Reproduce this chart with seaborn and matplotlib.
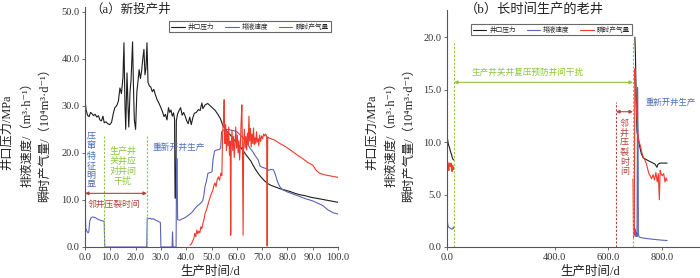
import matplotlib
matplotlib.use("Agg")
import matplotlib.pyplot as plt
from matplotlib.lines import Line2D
from matplotlib.ticker import FormatStrFormatter
import seaborn as sns
import pandas as pd

# ---------- (a) new well ----------
a_p_day = [0, 0.4, 1, 1.6, 2.2, 2.8, 3.4, 4, 4.7, 5.3, 5.9, 6.5, 7.1, 7.6, 8.3, 9.0, 9.8, 10.5,
           11.2, 11.8, 12.5, 13.2, 13.8, 14.4, 15.0, 15.4, 15.8, 16.1, 16.6, 17.0, 17.3, 17.8,
           18.2, 18.8, 19.2, 19.5, 20.0, 20.5, 21.0, 21.4, 21.9, 22.4, 22.8, 23.3, 23.7, 24.1,
           24.5, 24.9, 25.5, 26.0, 26.6, 27.2, 27.8, 28.5, 29.2, 30.0, 30.6, 31.2, 31.8, 32.4,
           33.0, 33.5, 34.0, 34.5, 35.0, 35.4, 35.6, 35.9, 36.1, 36.6, 37.2, 37.8, 38.4, 39.0,
           39.6, 40.2, 40.8, 41.4, 42.0, 42.6, 43.2, 44.0, 44.8, 45.5, 46.2, 46.6, 47.5, 48.5,
           49.5, 50.5, 51.5, 52.5, 53.5, 54.5, 55.5, 56.5, 57.5, 58.5, 59.5, 60.5, 61.5, 62.5,
           63.5, 64.5, 65.5, 66.5, 67.5, 68.5, 69.5, 70.5, 71.5, 72.5, 73.5, 75, 77, 79, 81, 83,
           85, 87, 89, 91, 93, 95, 97, 100]
a_p_val = [31.5, 29.2, 28.0, 27.7, 28.6, 28.3, 27.9, 28.2, 27.6, 27.9, 27.0, 26.8, 27.8, 26.4,
           26.6, 26.2, 26.0, 26.5, 28.4, 29.6, 30.0, 31.0, 33.8, 32.6, 36.0, 43.4, 30.0, 25.0,
           37.0, 30.0, 25.5, 33.0, 35.5, 43.6, 33.0, 27.0, 25.0, 33.0, 35.5, 37.7, 35.8, 37.5,
           39.8, 42.0, 36.6, 38.0, 43.4, 35.0, 34.2, 34.0, 33.0, 33.5, 32.4, 31.3, 30.6, 29.6,
           28.8, 27.7, 28.2, 27.0, 29.6, 28.6, 29.1, 27.8, 28.5, 27.2, 10.4, 10.4, 26.8, 28.3,
           29.0, 29.6, 28.0, 28.6, 27.8, 26.8, 26.2, 27.6, 26.0, 27.4, 28.4, 28.6, 29.2, 29.0,
           30.6, 29.4, 30.2, 30.5, 30.0, 29.5, 29.0, 28.2, 27.3, 25.8, 25.0, 24.3, 23.8, 23.0,
           22.4, 21.8, 21.2, 20.5, 19.7, 19.0, 18.3, 17.3, 16.4, 15.6, 14.9, 14.3, 13.8, 13.4,
           13.1, 12.8, 12.4, 12.1, 11.8, 11.4, 11.1, 10.9, 10.6, 10.4, 10.2, 10.0, 9.8, 9.5]

a_q_day = [0, 0.3, 0.7, 1.2, 1.5, 1.9, 2.4, 3.0, 3.6, 4.2, 4.8, 5.4, 6.0, 6.6, 7.2, 7.6, 7.8,
           24.4, 24.6, 25.2, 25.8, 26.4, 27.0, 27.6, 28.2, 28.8, 29.4, 29.8, 30.0, 34.4, 34.6,
           34.8, 36.0, 36.2, 36.4, 36.6, 37.5, 38.5, 39.5, 40.5, 41.5, 42.5, 43.5, 44.5, 45.5,
           46.5, 47.0, 47.4, 48.0, 48.6, 49.5, 50.2, 50.6, 51.2, 52.0, 53.0, 53.6, 54.0, 55.0,
           56.5, 58.0, 59.0, 60.0, 61.0, 62.5, 64.0, 65.0, 66.4, 67.5, 68.4, 69.2, 70.2, 71.5,
           72.5, 73.5, 74.5, 75.3, 76.0, 77.0, 78.0, 80.0, 82.5, 85.0, 87.5, 90.0, 92.0, 94.0,
           96.0, 98.0, 100]
a_q_val = [10.0, 4.0, 3.4, 3.0, 3.2, 5.6, 6.2, 6.4, 6.3, 6.2, 6.0, 5.8, 5.7, 5.6, 5.5, 5.4, 0.0,
           0.0, 6.2, 6.0, 6.1, 5.9, 6.0, 5.8, 5.6, 5.5, 5.3, 5.2, 0.0, 0.0, 3.2,
           0.0, 0.0, 18.8, 18.8, 5.8, 5.7, 6.0, 6.2, 6.6, 7.0, 7.5, 8.2, 8.8, 9.2,
           9.8, 11.0, 12.8, 14.0, 15.7, 15.8, 16.0, 18.5, 20.4, 20.6, 20.7, 21.0, 24.5, 24.9,
           25.0, 24.8, 24.7, 24.5, 24.0, 23.2, 22.2, 21.2, 20.2, 19.2, 18.6, 17.2, 16.9, 16.7,
           16.3, 16.5, 16.4, 15.3, 14.0, 12.8, 12.2, 11.7, 11.2, 10.7, 10.2, 9.8, 9.3, 8.8,
           7.9, 7.3, 7.0]

a_g_day = [41.5, 42.0, 42.5, 43.0, 43.4, 43.8, 44.2, 44.6, 45.0, 45.4, 45.8, 46.2, 46.6, 47.0,
           47.5, 48.0, 48.5, 49.0, 49.5, 50.0, 50.5, 51.0, 51.4, 51.8, 52.2, 52.7, 53.2, 53.7,
           54.1, 54.4, 54.8, 55.0, 55.3, 55.6, 55.9, 56.2, 56.5, 56.8, 57.1, 57.4, 57.6, 57.8,
           58.1, 58.4, 58.7, 59.0, 59.3, 59.6, 59.9, 60.2, 60.5, 60.8, 61.1, 61.4, 61.7, 62.0,
           62.2, 62.5, 62.7, 63.0, 63.3, 63.6, 63.9, 64.2, 64.5, 64.8, 65.1, 65.4, 65.7, 66.0,
           66.3, 66.6, 66.9, 67.2, 67.5, 67.8, 68.1, 68.4, 68.7, 69.0, 69.4, 69.8, 70.2, 70.6,
           71.0, 71.4, 71.8, 72.0, 72.2, 72.6, 73.5, 75.0, 77.0, 79.0, 82.0, 84.0, 86.0, 88.0,
           90.0, 91.5, 93.0, 95.0, 97.0, 100]
a_g_val = [0.4, 0.6, 1.2, 1.8, 2.9, 2.2, 3.6, 2.8, 3.4, 3.0, 4.3, 3.9, 5.0, 5.8,
           7.2, 7.9, 8.8, 9.8, 10.6, 11.4, 12.0, 13.2, 13.6, 12.8, 14.2, 14.9, 14.2, 15.7,
           15.2, 24.0, 27.5, 31.3, 22.0, 26.0, 20.5, 24.5, 21.5, 25.5, 19.5, 22.5, 2.5, 21.0,
           24.8, 20.5, 23.5, 19.0, 22.0, 25.5, 21.0, 23.8, 20.0, 22.6, 18.5, 21.5, 26.5, 30.2,
           22.0, 2.5, 21.5, 25.0, 21.0, 23.5, 20.6, 24.2, 21.8, 27.8, 22.5, 25.2, 21.3, 24.0,
           22.0, 25.3, 21.8, 23.2, 22.0, 24.5, 22.3, 23.0, 21.5, 23.8, 22.4, 23.6, 23.0, 24.0,
           23.6, 24.0, 23.5, 0.2, 23.4, 23.2, 23.0, 22.7, 22.0, 21.4, 20.3, 19.5, 18.8, 18.0,
           17.4, 16.2, 15.6, 15.3, 15.1, 14.8]

# ---------- (b) old well, two production periods ----------
b_p_day1 = [0, 2, 5, 9, 13, 17, 21, 25]
b_p_val1 = [10.5, 10.3, 9.8, 9.5, 9.1, 8.8, 8.4, 8.3]
b_p_day2 = [698, 700, 702, 704, 706, 710, 716, 722, 729, 736, 743, 750, 758, 766, 773, 780,
            784, 792, 818]
b_p_val2 = [20.0, 18.5, 15.5, 12.5, 11.0, 10.4, 9.6, 8.9, 8.5, 8.4, 8.3, 8.2, 8.1, 8.0, 7.9,
            7.6, 7.9, 8.0, 8.0]

b_q_day1 = [0, 1, 2, 4, 6, 9, 12, 15, 18, 21, 24, 25]
b_q_val1 = [3.6, 2.8, 2.3, 2.0, 1.9, 1.85, 1.8, 1.75, 1.7, 1.75, 1.9, 1.8]
b_q_day2 = [693, 696, 698, 700, 702, 704, 706, 708, 710, 711, 714, 720, 730, 745, 760, 780,
            800, 818]
b_q_val2 = [0.9, 1.9, 1.2, 1.7, 1.0, 1.4, 1.0, 15.2, 10.5, 1.2, 0.95, 0.9, 0.85, 0.8, 0.75,
            0.7, 0.65, 0.62]

b_g_day1 = [0, 0.5, 1.5, 3, 5, 7, 9, 11, 13, 15, 17, 19, 21, 23, 25]
b_g_val1 = [4.4, 6.5, 8.0, 8.1, 7.6, 7.3, 8.0, 7.9, 7.7, 8.0, 7.5, 7.2, 7.8, 7.4, 7.6]
b_g_day2 = [691, 693, 696, 698, 701, 705, 710, 714, 719, 724, 729, 735, 740, 745, 750, 755,
            760, 766, 771, 776, 781, 785, 789, 792, 795, 800, 805, 810, 814, 818]
b_g_val2 = [6.5, 1.0, 1.2, 17.0, 15.0, 12.5, 10.5, 10.0, 9.6, 9.0, 8.6, 8.3, 8.0, 7.5, 7.0,
            6.8, 6.5, 6.9, 6.4, 7.1, 6.2, 7.0, 4.5, 7.3, 7.0, 6.8, 7.0, 6.2, 6.6, 6.3]

names = ["井口压力", "排液速度", "瞬时产气量"]
colors = {"井口压力": "#1e1e1e", "排液速度": "#5c64b4", "瞬时产气量": "#ee3b2c"}


def frame(parts):
    rows = []
    for seg, (name, days, vals) in enumerate(parts):
        for d, v in zip(days, vals):
            rows.append({"day": d, "val": v, "series": name, "seg": seg})
    return pd.DataFrame(rows)


df_a = frame([
    (names[0], a_p_day, a_p_val),
    (names[1], a_q_day, a_q_val),
    (names[2], a_g_day, a_g_val),
])
df_b = frame([
    (names[0], b_p_day1, b_p_val1), (names[0], b_p_day2, b_p_val2),
    (names[1], b_q_day1, b_q_val1), (names[1], b_q_day2, b_q_val2),
    (names[2], b_g_day1, b_g_val1), (names[2], b_g_day2, b_g_val2),
])

sns.set_theme(style="ticks")
plt.rcParams["font.family"] = ["Liberation Serif", "Noto Sans CJK SC", "DejaVu Sans"]
plt.rcParams["axes.unicode_minus"] = False

fig = plt.figure(figsize=(7, 2.78), dpi=100)
ax_a = fig.add_axes([85 / 700, 31 / 278, 253 / 700, 240 / 278])
ax_b = fig.add_axes([447 / 700, 31 / 278, 253 / 700, 237 / 278])

for ax, df in [(ax_a, df_a), (ax_b, df_b)]:
    sns.lineplot(data=df, x="day", y="val", hue="series", units="seg", estimator=None,
                 sort=False, palette=colors, hue_order=names, linewidth=0.8,
                 legend=False, ax=ax)
    ax.set_xlabel("")
    ax.set_ylabel("")
    sns.despine(ax=ax)
    for s in ["left", "bottom"]:
        ax.spines[s].set_color("#555555")
        ax.spines[s].set_linewidth(0.8)
    ax.tick_params(direction="out", length=2.5, width=0.6, colors="#555555",
                   labelsize=7.5, labelcolor="#333333", pad=1.5)
    ax.xaxis.set_major_formatter(FormatStrFormatter("%.1f"))
    ax.yaxis.set_major_formatter(FormatStrFormatter("%.1f"))
    handles = [Line2D([], [], color=colors[n], lw=0.8) for n in names]
    leg = ax.legend(handles, names, ncol=3, fontsize=4.8, frameon=True, fancybox=False,
                    handlelength=2.0, columnspacing=1.6, handletextpad=0.5,
                    borderpad=0.3, loc="upper right",
                    bbox_to_anchor=(0.985, 0.955) if ax is ax_a else (0.745, 0.955))
    leg.get_frame().set_edgecolor("#444444")
    leg.get_frame().set_linewidth(0.8)

ax_a.set_xlim(0, 100)
ax_a.set_ylim(0, 51)
ax_a.set_xticks(range(0, 101, 10))
ax_a.set_yticks(range(0, 51, 10))

ax_b.set_xlim(0, 940)
ax_b.set_ylim(0, 22.6)
ax_b.set_xticks([0, 400, 600, 800])
ax_b.set_yticks([0, 5, 10, 15, 20])

green = "#8cc63f"
dred = "#b5433a"
blue_t = "#4a6fb5"

# annotations (a)
ax_a.vlines([7.7, 24.5], 0, 23.5, colors=green, linestyles=(0, (2, 1.5)), lw=0.8)
ax_a.annotate("", xy=(0, 11.4), xytext=(24.5, 11.4),
              arrowprops=dict(arrowstyle="<|-|>", color=dred, lw=0.8,
                              mutation_scale=5, shrinkA=0, shrinkB=0))
ax_a.text(1.2, 10.0, "邻井压裂时间", color=dred, fontsize=6.3, va="top", ha="left")
ax_a.text(2.3, 24.4, "\n".join("压窜特征明显"), color=blue_t, fontsize=6.5, va="top",
          ha="center", linespacing=1.2)
ax_a.text(15.0, 21.3, "生产井\n关井应\n对井间\n干扰", color=green, fontsize=6.5,
          va="top", ha="center", linespacing=1.15)
ax_a.text(26.5, 21.2, "重新开井生产", color=blue_t, fontsize=6.3, va="center", ha="left")

# annotations (b)
ax_b.vlines([26, 691], 0, 19.5, colors=green, linestyles=(0, (2, 1.5)), lw=0.8)
ax_b.vlines([628], 0, 13.8, colors=dred, linestyles=(0, (2, 1.5)), lw=0.8)
ax_b.annotate("", xy=(26, 15.7), xytext=(691, 15.7),
              arrowprops=dict(arrowstyle="<|-|>", color=green, lw=0.8,
                              mutation_scale=5, shrinkA=0, shrinkB=0))
ax_b.annotate("", xy=(628, 12.9), xytext=(691, 12.9),
              arrowprops=dict(arrowstyle="<|-|>", color=dred, lw=0.8,
                              mutation_scale=5, shrinkA=0, shrinkB=0))
ax_b.text(300, 16.2, "生产井关井复压预防井间干扰", color=green, fontsize=6.2,
          va="bottom", ha="center")
ax_b.text(659, 12.2, "\n".join("邻井压裂时间"), color=dred, fontsize=6.5, va="top",
          ha="center", linespacing=1.15)
ax_b.text(738, 13.8, "重新开井生产", color=blue_t, fontsize=6.0, va="center", ha="left")

# titles and axis labels
fig.text(90 / 700, 1 - 10 / 278, "（a）新投产井", fontsize=9, va="center", ha="left",
         color="#222222")
fig.text(465 / 700, 1 - 9 / 278, "（b）长时间生产的老井", fontsize=9.5, va="center",
         ha="left", color="#222222")
for xc in [210, 590]:
    fig.text(xc / 700, 6 / 278, "生产时间/d", fontsize=9, ha="center", va="center",
             color="#222222")

ylabels = ["井口压力/MPa", "排液速度/（m³·h⁻¹）", "瞬时产气量/（10⁴m³·d⁻¹）"]
for xs in [(7, 27, 45), (372, 391, 409)]:
    for xp, lab in zip(xs, ylabels):
        fig.text(xp / 700, 1 - 132 / 278, lab, rotation=90, fontsize=8.8, ha="center",
                 va="center", color="#222222")

fig.savefig("out.png", dpi=100)
